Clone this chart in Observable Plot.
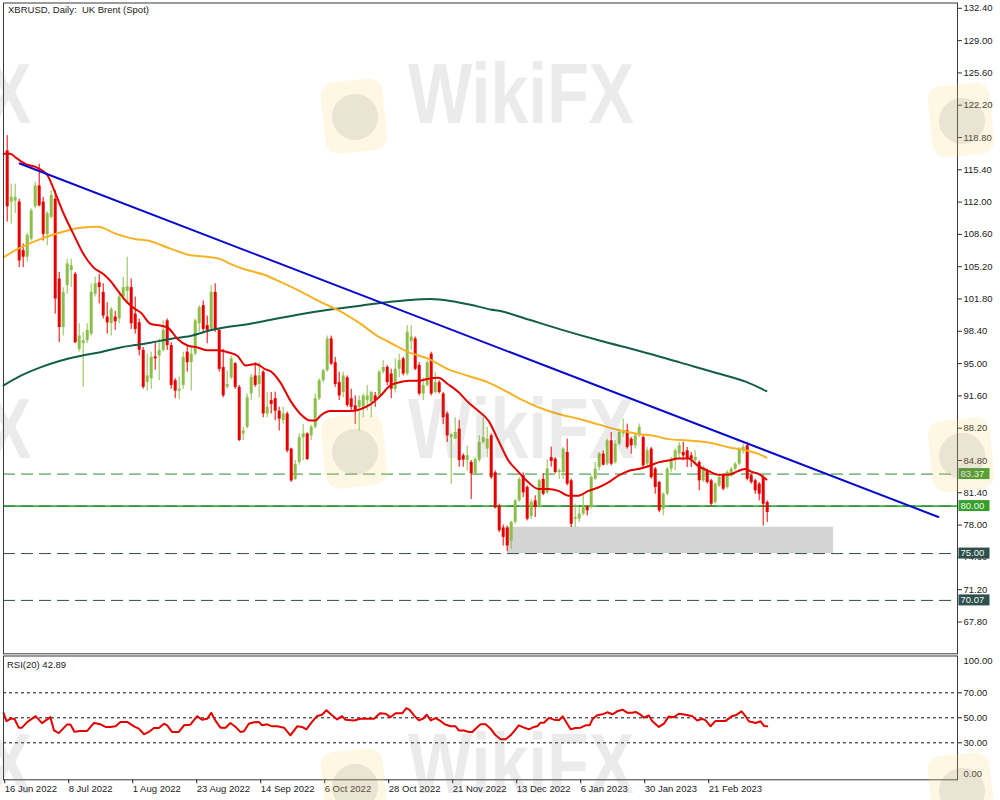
<!DOCTYPE html>
<html><head><meta charset="utf-8">
<script src="https://cdn.jsdelivr.net/npm/d3@7"></script>
<script src="https://cdn.jsdelivr.net/npm/@observablehq/plot@0.6"></script>
<style>
html,body{margin:0;padding:0;background:#fff;}
#wrap{position:relative;width:1000px;height:800px;overflow:hidden;background:#fff;}
#wrap svg{display:block;}
.wm{position:absolute;pointer-events:none;font-family:"Liberation Sans",Arial,sans-serif;font-weight:bold;color:rgba(120,120,120,0.15);line-height:1;white-space:nowrap;transform-origin:0 0;}
.logo{position:absolute;pointer-events:none;width:62px;height:72px;border-radius:14px;background:rgba(250,215,120,0.20);transform:rotate(-6deg);}
.logo::after{content:"";position:absolute;left:9px;top:14px;width:46px;height:46px;border-radius:50%;background:rgba(120,120,120,0.15);}
</style></head>
<body><div id="wrap"></div>
<script>
// ---------- data (bar index 1 = 17 Jun 2022, bar 0 = 16 Jun 2022) ----------
const openP = [117.4,112.0,112.1,112.0,106.9,106.2,108.1,111.5,113.7,112.0,
108.6,110.4,112.3,103.9,98.8,103.2,104.8,104.4,96.5,97.1,
97.4,98.1,102.3,103.5,102.5,99.9,99.2,99.9,99.7,102.0,
102.6,103.0,100.2,99.3,96.4,93.0,93.4,95.7,95.8,96.4,
99.5,96.9,93.2,92.1,92.7,96.2,95.1,96.0,99.2,101.1,
99.0,98.6,102.5,98.5,94.6,92.5,93.5,95.0,92.5,87.6,
88.3,91.8,93.7,92.8,94.1,89.7,91.1,91.3,90.0,89.0,
89.7,86.0,82.8,84.6,87.2,87.6,87.4,88.3,91.3,93.2,
94.25,97.6,95.1,93.0,91.96,93.5,91.3,90.56,90.4,90.4,
91.1,90.9,91.6,91.6,94.1,94.6,93.9,92.3,94.4,95.5,
93.9,97.3,97.6,94.8,91.8,92.7,96.0,91.96,93.0,91.8,
89.7,87.2,87.05,88.1,85.3,84.8,84.6,83.4,84.8,86.7,
86.0,87.4,83.5,80.0,77.7,77.7,76.3,78.3,80.55,83.2,
81.96,78.9,80.55,80.0,82.8,81.4,85.1,84.94,83.54,83.54,
85.65,82.66,78.62,78.62,79.15,79.85,79.85,82.83,84.06,85.47,
84.42,86.87,84.59,86.52,87.58,87.93,87.05,86.35,87.4,87.23,
84.42,86.0,83.9,82.48,79.67,81.25,83.89,84.77,85.47,85.65,
85.82,85.29,84.77,84.59,82.66,83.71,82.66,80.38,82.13,83.19,
81.96,83.19,83.89,84.42,85.82,86.35,83.19,82.66,82.31,83.01,80.38];
const highP = [119.0,113.9,113.9,112.3,107.6,108.7,111.3,114.1,116.0,112.5,
111.0,113.2,113.2,104.6,103.0,106.0,106.0,104.6,99.2,98.3,
99.2,103.4,104.1,104.4,103.4,101.4,100.9,100.5,102.3,104.1,
106.2,103.9,102.0,99.7,96.7,96.0,96.2,97.2,97.6,99.5,
99.7,97.2,93.4,93.6,96.2,96.9,96.7,99.7,101.1,101.6,
100.0,103.2,103.4,98.6,96.5,94.2,95.8,95.1,92.7,88.3,
91.8,93.9,95.1,95.1,94.25,91.96,91.96,92.0,90.4,90.4,
89.9,86.1,84.8,87.6,88.6,87.7,88.5,91.8,93.4,94.4,
97.9,97.9,95.65,94.1,94.1,93.7,92.3,91.6,91.6,91.8,
92.7,92.1,91.96,94.25,95.3,94.8,94.4,95.5,96.0,95.65,
99.0,99.0,97.8,95.1,93.5,95.3,96.2,94.1,93.2,91.96,
89.9,87.6,89.3,89.0,85.5,86.3,84.8,85.1,87.4,89.3,
88.3,87.6,83.7,80.2,78.0,77.9,78.4,80.7,83.0,83.5,
82.13,80.7,81.08,82.8,83.4,84.9,86.2,85.1,83.9,86.17,
87.05,82.83,80.2,79.85,81.25,80.02,83.19,84.59,85.65,85.8,
87.05,87.75,86.87,88.1,89.16,88.63,87.23,87.58,88.63,87.4,
86.17,86.17,84.06,82.6,81.4,84.06,85.12,86.0,86.7,86.7,
86.17,85.65,85.82,84.77,84.24,83.89,82.83,82.48,83.19,83.36,
83.71,84.06,84.59,86.17,86.52,86.7,83.36,82.83,82.48,83.19,80.55];
const lowP = [109.9,109.7,110.8,105.1,105.1,105.7,107.9,111.3,111.5,107.9,
107.4,110.2,100.2,97.2,97.9,102.3,103.0,97.1,96.2,92.5,
97.1,97.9,102.0,101.3,99.7,98.1,97.9,98.5,99.2,101.6,
101.3,98.6,98.1,95.8,92.3,92.1,92.3,94.3,93.2,96.2,
96.4,92.3,91.3,91.2,92.3,94.1,92.1,95.8,98.3,98.3,
97.1,98.5,98.3,94.1,91.4,92.3,93.3,92.3,86.8,86.9,
88.1,91.1,92.5,91.4,89.3,89.3,89.7,89.0,87.9,88.6,
85.6,82.5,82.7,84.3,84.8,84.8,86.9,88.1,91.1,93.0,
94.1,94.8,92.5,91.1,91.4,90.4,90.0,88.6,87.9,89.3,
90.0,89.3,90.4,91.3,93.9,92.7,91.3,91.9,93.5,93.7,
93.7,96.35,94.25,91.6,91.1,92.5,91.6,91.8,91.8,88.6,
86.7,82.3,87.0,84.1,84.1,83.7,80.7,83.2,84.6,86.5,
85.1,82.8,79.7,77.2,75.8,75.2,75.45,78.1,80.4,80.9,
78.44,78.6,78.8,79.8,81.1,81.2,84.1,83.4,82.8,82.8,
82.13,77.74,77.74,78.27,78.97,78.97,79.67,82.7,83.71,84.24,
84.24,84.24,84.42,86.35,87.23,86.0,85.47,86.0,87.23,84.06,
84.06,82.83,81.25,79.3,78.97,81.08,83.54,83.71,84.94,84.77,
84.06,84.06,84.42,81.6,82.48,82.31,80.02,80.2,81.96,81.6,
81.78,83.01,83.71,84.24,85.47,82.66,82.31,81.25,80.55,77.91,78.27];
const closeP = [111.5,112.5,112.5,105.8,106.2,108.5,111.1,113.7,111.6,108.6,
110.8,112.7,101.8,98.8,102.5,105.5,105.3,97.2,97.9,97.4,
98.5,102.5,103.4,103.0,100.0,99.3,100.7,99.4,102.0,103.0,
103.1,99.2,98.6,96.4,92.5,93.7,95.65,95.5,96.4,98.5,
96.9,92.7,92.1,92.3,95.65,95.1,96.0,99.5,100.9,98.6,
98.5,102.5,98.5,94.4,91.6,92.8,95.5,92.5,86.9,87.9,
91.4,93.55,92.7,93.7,89.7,90.4,90.7,90.0,89.15,89.7,
85.8,82.65,84.4,87.2,87.6,84.9,88.3,91.3,93.2,94.25,
97.6,94.95,92.8,91.6,93.7,90.6,90.4,90.0,91.1,91.6,
91.6,91.96,91.1,94.1,94.6,93.0,92.3,94.4,95.3,93.9,
98.3,97.8,94.4,91.8,92.7,95.1,91.8,93.0,91.96,89.3,
87.4,87.5,87.75,84.8,84.85,85.3,83.4,84.9,86.7,87.2,
87.05,83.0,79.8,77.4,76.7,75.8,78.3,80.55,82.8,81.4,
78.62,80.4,79.85,82.66,81.25,83.9,84.7,83.54,83.71,86.0,
82.31,78.09,78.8,79.15,80.02,79.5,83.01,83.89,85.47,84.3,
86.87,84.42,86.52,87.75,87.93,86.17,86.35,87.4,88.28,84.24,
85.82,83.0,81.96,79.5,81.25,83.89,84.77,85.82,86.35,85.29,
84.94,84.94,85.12,82.66,84.06,82.48,80.2,82.31,83.01,81.78,
83.54,83.89,84.42,86.0,86.17,82.83,82.48,81.6,81.25,80.2,79.32];

// moving averages: bar position, value
const maFastBar = [0.1,1.8,3.1,5.6,8.1,11.1,12.6,15.1,17.6,20.1,22.6,25.1,26.8,28.6,31.1,33.1,34.3,36.8,39.3,41.1,43.6,46.1,48.6,51.1,53.6,56.1,58.6,60.6,63.1,65.6,66.8,69.3,71.8,74.3,76.8,78.1,79.3,81.8,84.3,86.8,89.3,91.8,94.3,96.8,98.8,101.3,103.8,106.3,108.8,111.3,113.8,116.3,118.8,121.3,123.8,126.3,128.8,131.3,133.8,136.3,138.8,141.3,143.8,146.3,148.8,151.3,153.8,156.3,158.8,161.3,163.8,166.3,168.8,171.3,173.8,176.3,178.8,181.3,183.8,185.6,187.1,188.8,190.8];
const maFastVal = [117.1,117.1,116.7,116.0,115.7,114.8,113.4,110.8,108.6,106.5,105.1,104.4,103.7,102.7,101.4,100.7,100.4,99.2,99.0,98.8,97.6,96.9,96.7,96.4,96.4,96.2,95.8,94.8,94.95,94.4,94.2,93.0,91.1,89.7,89.0,89.0,89.5,90.0,90.0,90.0,90.2,90.7,91.6,92.7,93.0,93.2,93.2,93.4,93.5,92.8,92.0,90.9,90.0,89.0,86.9,84.8,83.6,82.5,81.8,81.8,81.6,81.1,81.1,81.6,81.96,82.5,83.2,83.7,83.9,84.2,84.6,84.8,85.0,85.0,84.2,83.7,83.3,83.3,83.7,83.9,83.6,83.4,82.8];
const maMidBar = [0.1,4.3,9.3,14.3,19.3,23.6,28.6,33.1,36.1,41.8,46.8,51.8,54.3,56.8,60.1,65.6,69.3,74.3,79.3,84.3,89.3,93.6,96.3,101.3,106.3,111.3,116.3,121.3,126.3,130.1,133.8,138.8,143.8,148.8,153.8,158.8,162.6,166.3,171.3,176.3,181.3,186.3,188.8,190.8];
const maMidVal = [106.2,107.2,108.1,108.8,109.3,109.4,108.6,108.1,107.95,107.1,106.4,106.2,106.0,105.5,104.96,104.3,103.6,102.6,101.5,100.5,99.2,97.9,97.3,96.2,95.5,94.4,93.7,93.0,91.96,91.1,90.4,89.7,89.2,88.6,88.0,87.6,87.4,87.05,86.9,86.7,86.2,85.8,85.5,85.1];
const maSlowBar = [0.1,4.3,9.3,14.3,19.3,24.3,29.3,33.1,36.8,41.8,46.8,51.8,56.8,61.8,65.6,74.3,81.8,89.3,96.8,101.8,106.8,111.8,116.8,121.8,124.6,130.1,139.3,149.3,159.3,169.3,179.3,185.6,190.8];
const maSlowVal = [92.7,93.7,94.6,95.3,95.8,96.2,96.7,96.95,97.2,97.6,97.9,98.5,98.9,99.2,99.5,100.2,100.7,101.1,101.5,101.7,101.8,101.6,101.2,100.7,100.5,99.8,98.6,97.4,96.3,95.1,93.9,93.1,92.1];

// trend line and support zone
const trendBar = [4.1, 233.8];
const trendVal = [116.06, 78.85];
const zoneBar = [126.1, 207.6];
const zoneVal = [75.0, 77.78];

// horizontal levels
const levelVals = [83.37, 80.00, 75.00, 70.07];

// RSI(20)
const rsiBar = [0.1,0.8,1.8,2.8,3.9,4.7,6.0,8.1,9.7,11.8,12.7,13.9,16.0,16.8,17.8,19.3,21.0,22.7,24.3,25.6,26.8,28.1,29.3,31.0,32.7,33.9,35.2,36.4,37.7,38.9,40.2,41.0,42.2,43.9,45.2,46.8,48.5,49.7,51.0,52.0,53.1,54.3,55.6,56.8,58.1,59.3,60.2,61.4,62.7,63.9,64.7,66.0,67.2,68.5,70.2,71.8,73.5,74.7,75.8,77.2,78.5,79.7,80.8,82.2,83.5,84.7,85.6,87.7,89.3,91.0,92.7,94.2,
95.6,96.8,98.1,99.8,100.8,101.6,102.7,103.9,104.9,105.9,106.9,108.1,109.1,110.4,111.85,113.1,113.9,115.2,116.4,117.3,118.1,119.35,120.6,121.85,123.1,124.35,125.6,126.85,128.1,128.9,130.2,131.4,132.7,133.5,134.35,135.2,136.4,137.7,138.9,139.9,141.85,143.1,144.35,145.6,146.6,147.3,148.5,149.8,151.0,152.3,153.5,154.8,156.0,157.3,158.1,159.35,160.2,161.4,162.3,163.9,165.2,166.4,167.7,168.9,170.6,172.3,173.5,174.8,175.6,176.85,178.1,179.35,180.6,182.3,183.1,184.6,185.6,186.4,188.1,189.35,190.2,191.0];
const rsiVal = [53.7,47.3,49.2,49.2,42.1,42.1,46.5,51.3,45.7,50.5,39.9,37.7,44.7,44.7,38.9,39.5,39.5,45.9,44.8,42.7,42.7,43.2,46.7,46.7,43.2,41.3,36.8,38.7,41.9,41.9,45.3,44.0,38.7,38.7,44.0,44.5,51.3,48.4,49.2,54.0,47.5,42.1,42.1,45.9,42.7,38.7,39.2,45.3,46.4,46.7,44.0,44.8,43.2,43.2,42.1,36.0,43.2,42.7,40.8,46.7,51.5,52.5,56.0,52.0,48.7,51.3,48.4,47.9,49.2,49.2,49.2,53.7,
53.2,50.5,53.7,53.7,57.7,56.4,51.9,47.9,49.2,52.4,47.9,49.7,47.9,44.8,43.2,43.2,39.9,39.9,38.7,38.7,41.3,44.8,44.8,41.3,36.0,32.8,32.8,36.0,40.8,44.0,42.1,40.8,42.7,43.2,46.1,46.1,49.9,48.5,48.0,51.1,40.8,41.9,42.1,44.0,44.0,48.8,52.0,52.8,54.4,52.8,55.2,56.5,54.1,54.1,54.7,52.5,50.1,51.9,47.2,42.7,45.3,51.1,50.5,53.2,52.4,51.3,47.9,49.2,47.9,43.2,47.5,47.5,47.5,51.5,52.0,55.2,51.2,47.2,45.9,47.2,43.5,43.2];
const rsiLevels = [70, 50, 30];

// axis ticks
const priceTicks = [132.4,129.0,125.6,122.2,118.8,115.4,112.0,108.6,105.2,101.8,98.4,95.0,91.6,88.2,84.8,81.4,78.0,74.6,71.2,67.8];
const dateBars = [0,16,32,48,64,80,96,112,128,144,160,176];
const dateLabels = ["16 Jun 2022","8 Jul 2022","1 Aug 2022","23 Aug 2022","14 Sep 2022","6 Oct 2022","28 Oct 2022","21 Nov 2022","13 Dec 2022","6 Jan 2023","30 Jan 2023","21 Feb 2023"];
const titleText = "XBRUSD, Daily:  UK Brent (Spot)";
const rsiTitle = "RSI(20) 42.89";

// ---------- build ----------
const UP = "#8cbf4a", DOWN = "#e80000";
const FONT = "'Liberation Sans', Arial, sans-serif";
const xDomain = [0.075, 238.575];

const bars = closeP.map((c, i) => ({j: i + 1, o: openP[i], h: highP[i], l: lowP[i], c}));
const colorOf = d => (d.c >= d.o ? UP : DOWN);
const pts = (bs, vs) => bs.map((b, i) => ({b, v: vs[i]}));
const zone = [{x1: zoneBar[0], x2: zoneBar[1], y1: zoneVal[0], y2: zoneVal[1]}];
const labelOf = new Map(dateBars.map((b, i) => [b, dateLabels[i]]));

const tagFill = ["#2e9224", "#34a02a", "#2f4f4f", "#2f4f4f"];
function levelTags(index, scales, values, dimensions) {
  const g = d3.create("svg:g").attr("text-anchor", "start");
  const x0 = dimensions.width - dimensions.marginRight + 1.5;
  levelVals.forEach((v, k) => {
    const y = scales.y(v);
    g.append("rect").attr("x", x0).attr("y", y - 5.5).attr("width", 31).attr("height", 11).attr("fill", tagFill[k]);
    g.append("text").attr("x", x0 + 2).attr("y", y).attr("dy", "0.35em").attr("text-anchor", "start")
      .attr("fill", "#f2f8ee").attr("font-size", 9.5).attr("font-family", FONT).text(v.toFixed(2));
  });
  return g.node();
}

const common = {fontFamily: FONT, fontSize: "9.5px", color: "#222", background: "transparent", overflow: "visible"};

const main = Plot.plot({
  width: 1000, height: 654,
  marginLeft: 3, marginRight: 43, marginTop: 2.5, marginBottom: 0.7,
  x: {domain: xDomain, axis: null, label: null},
  y: {domain: [64.45, 132.96], label: null},
  style: common,
  marks: [
    Plot.rect(zone, {x1: "x1", x2: "x2", y1: "y1", y2: "y2", fill: "#d4d4d4"}),
    Plot.ruleY([levelVals[0]], {stroke: "#2e8b2e", strokeWidth: 1, strokeDasharray: "12,6"}),
    Plot.ruleY([levelVals[1]], {stroke: "#3cb043", strokeWidth: 1.6}),
    Plot.ruleY([levelVals[1]], {stroke: "#1f6f1f", strokeWidth: 0.8, strokeDasharray: "12,6"}),
    Plot.ruleY([levelVals[2], levelVals[3]], {stroke: "#2f4f4f", strokeWidth: 1, strokeDasharray: "12,6"}),
    Plot.ruleX(bars, {x: "j", y1: "l", y2: "h", stroke: colorOf, strokeWidth: 1}),
    Plot.ruleX(bars, {x: "j", y1: "o", y2: "c", stroke: colorOf, strokeWidth: 3}),
    Plot.line(pts(maSlowBar, maSlowVal), {x: "b", y: "v", stroke: "#135e48", strokeWidth: 2, curve: "monotone-x"}),
    Plot.line(pts(maMidBar, maMidVal), {x: "b", y: "v", stroke: "#f5b324", strokeWidth: 2, curve: "monotone-x"}),
    Plot.line(pts(maFastBar, maFastVal), {x: "b", y: "v", stroke: "#e30000", strokeWidth: 2, curve: "monotone-x"}),
    Plot.line(pts(trendBar, trendVal), {x: "b", y: "v", stroke: "#0a0acd", strokeWidth: 2}),
    Plot.frame({stroke: "#3a3a3a"}),
    Plot.axisY(priceTicks, {anchor: "right", tickSize: 4, tickPadding: 2, tickFormat: d => d.toFixed(2), stroke: "#333"}),
    levelTags,
    Plot.text([titleText], {frameAnchor: "top-left", dx: 4.5, dy: 3, lineAnchor: "top", text: d => d, fill: "#222"})
  ]
});

const rsi = Plot.plot({
  width: 1000, height: 146,
  marginLeft: 3, marginRight: 43, marginTop: 1.5, marginBottom: 20.7,
  x: {domain: xDomain, label: null},
  y: {domain: [0.4, 99.44], label: null},
  style: common,
  marks: [
    Plot.ruleY(rsiLevels, {stroke: "#111", strokeWidth: 1, strokeDasharray: "3,3"}),
    Plot.line(pts(rsiBar, rsiVal), {x: "b", y: "v", stroke: "#e30000", strokeWidth: 2}),
    Plot.frame({stroke: "#3a3a3a"}),
    Plot.axisY(rsiLevels, {anchor: "right", tickSize: 4, tickPadding: 2, tickFormat: d => d.toFixed(2)}),
    Plot.text([100], {y: d => d, frameAnchor: "right", dx: 6, dy: 5.5, textAnchor: "start", text: d => d.toFixed(2), fill: "#222"}),
    Plot.text([0], {y: d => d, frameAnchor: "right", dx: 6, dy: -6.5, textAnchor: "start", text: d => d.toFixed(2), fill: "#222"}),
    Plot.axisX(dateBars, {anchor: "bottom", tickSize: 4, tickPadding: 1.5, textAnchor: "start", dx: 1.5, tickFormat: d => labelOf.get(d)}),
    Plot.text([rsiTitle], {frameAnchor: "top-left", dx: 3.5, dy: 5, lineAnchor: "top", text: d => d, fill: "#222"})
  ]
});

const wrap = document.getElementById("wrap");
wrap.appendChild(main);
wrap.appendChild(rsi);

// faint watermarks
function wm(text, left, top, size) {
  const d = document.createElement("div");
  d.className = "wm"; d.textContent = text;
  d.style.left = left + "px"; d.style.top = top + "px"; d.style.fontSize = size + "px";
  d.style.transform = "scale(1,1.25)";
  wrap.appendChild(d);
}
function logo(left, top) {
  const d = document.createElement("div");
  d.className = "logo"; d.style.left = left + "px"; d.style.top = top + "px";
  wrap.appendChild(d);
}
[[52], [387], [722]].forEach(([t]) => { wm("WikiFX", 408, t - 2, 68); logo(323, t + 28); wm("X", -14, t - 2, 68); logo(930, t + 32); });
</script></body></html>
